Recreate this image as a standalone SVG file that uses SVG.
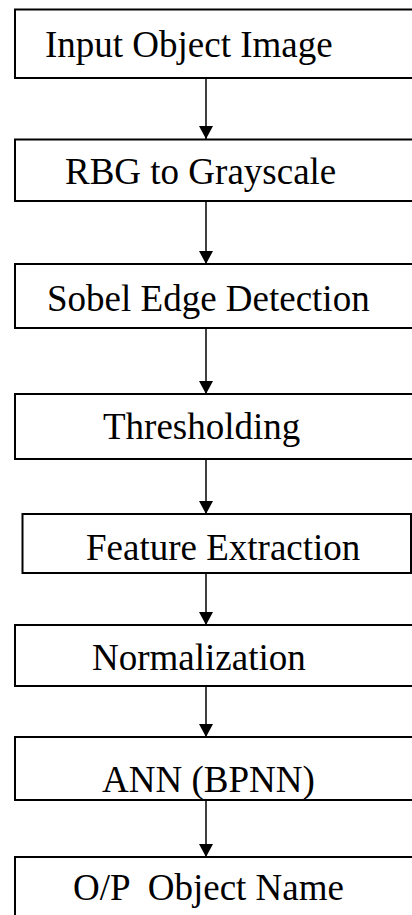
<svg xmlns="http://www.w3.org/2000/svg" width="412" height="915" viewBox="0 0 412 915">
  <style>
    .box { fill: #fff; stroke: #000; stroke-width: 2; }
    .lbl { font-family: "Liberation Serif", "Times New Roman", serif; font-size: 37px; fill: #000; }
    .link { stroke: #000; stroke-width: 1.5; fill: none; marker-end: url(#head); }
  </style>
  <defs>
    <marker id="head" markerUnits="userSpaceOnUse" markerWidth="14" markerHeight="16" refX="13" refY="7" orient="auto">
      <path d="M0,0 L13,7 L0,14 Z" fill="#000"/>
    </marker>
  </defs>
  <rect width="412" height="915" fill="#fff"/>

  <g id="connectors">
    <line class="link" x1="206" y1="79" x2="206" y2="139"/>
    <line class="link" x1="206" y1="202" x2="206" y2="264"/>
    <line class="link" x1="206" y1="329" x2="206" y2="394"/>
    <line class="link" x1="206" y1="460" x2="206" y2="514"/>
    <line class="link" x1="206" y1="574" x2="206" y2="625"/>
    <line class="link" x1="206" y1="687" x2="206" y2="737"/>
    <line class="link" x1="206" y1="801" x2="206" y2="857"/>
  </g>

  <g id="input-image">
    <rect class="box" x="15" y="9.5" width="420" height="68.5"/>
    <text class="lbl" x="45" y="57">Input Object Image</text>
  </g>
  <g id="to-grayscale">
    <rect class="box" x="15" y="139.5" width="420" height="61.5"/>
    <text class="lbl" x="65" y="184">RBG to Grayscale</text>
  </g>
  <g id="sobel-edges">
    <rect class="box" x="15" y="264" width="420" height="64"/>
    <text class="lbl" x="47" y="310.5">Sobel Edge Detection</text>
  </g>
  <g id="thresholding">
    <rect class="box" x="15" y="394" width="420" height="65"/>
    <text class="lbl" x="103" y="439">Thresholding</text>
  </g>
  <g id="feature-extraction">
    <rect class="box" x="22.5" y="514" width="388.5" height="59"/>
    <text class="lbl" x="86" y="560">Feature Extraction</text>
  </g>
  <g id="normalization">
    <rect class="box" x="15" y="625" width="420" height="61"/>
    <text class="lbl" x="92" y="670">Normalization</text>
  </g>
  <g id="ann-bpnn">
    <rect class="box" x="15" y="737" width="420" height="63"/>
    <text class="lbl" x="102" y="792">ANN (BPNN)</text>
  </g>
  <g id="output-name">
    <rect class="box" x="15" y="857" width="420" height="80"/>
    <text class="lbl" x="73" y="900" xml:space="preserve">O/P  Object Name</text>
  </g>
</svg>
